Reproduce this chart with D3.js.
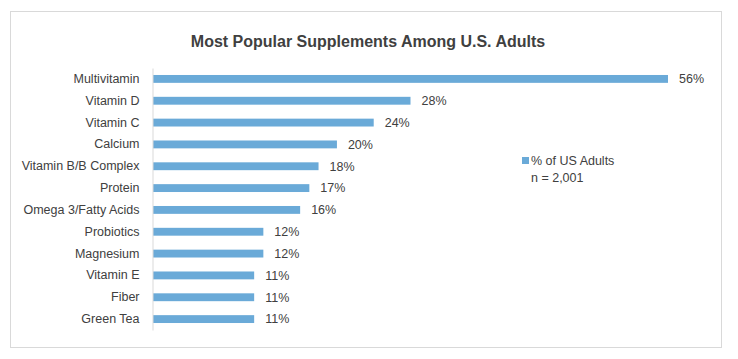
<!DOCTYPE html>
<html><head><meta charset="utf-8">
<script src="https://cdn.jsdelivr.net/npm/d3@7"></script>
<style>
body{margin:0;background:#fff;}
svg text{font-family:"Liberation Sans",Arial,sans-serif;}
</style></head>
<body>
<svg id="c" width="738" height="359"></svg>
<script>
const categories = ["Multivitamin","Vitamin D","Vitamin C","Calcium","Vitamin B/B Complex","Protein","Omega 3/Fatty Acids","Probiotics","Magnesium","Vitamin E","Fiber","Green Tea"];
const values = [56,28,24,20,18,17,16,12,12,11,11,11];
const seriesName = "% of US Adults";
const noteText = "n = 2,001";
const title = "Most Popular Supplements Among U.S. Adults";

const svg = d3.select("#c");
svg.append("rect").attr("x",10.5).attr("y",11.5).attr("width",711).attr("height",336)
  .attr("fill","#fff").attr("stroke","#d9d9d9");

svg.append("text").attr("x",368).attr("y",47).attr("text-anchor","middle")
  .attr("font-size",16).attr("font-weight","bold").attr("fill","#404040").text(title);

const x = d3.scaleLinear().domain([0,56]).range([153,668]);
const y = d3.scaleBand().domain(categories).range([68,330]).paddingInner(0.64).paddingOuter(0.32);

svg.selectAll("rect.bar").data(values).join("rect").attr("class","bar")
  .attr("x",x(0)).attr("y",(d,i)=>y(categories[i]))
  .attr("width",d=>x(d)-x(0)).attr("height",y.bandwidth()).attr("fill","#6aaad8");

const yAxis = d3.axisLeft(y).tickSize(0).tickPadding(13);
const g = svg.append("g").attr("transform","translate(152.5,0)").call(yAxis);
g.select(".domain").attr("stroke","#d9d9d9");
g.selectAll("text").attr("font-size",12.5).attr("fill","#404040").style("font-family","'Liberation Sans',Arial,sans-serif");

svg.selectAll("text.val").data(values).join("text").attr("class","val")
  .attr("x",d=>x(d)+11).attr("y",(d,i)=>y(categories[i])+y.bandwidth()/2).attr("dy","0.35em")
  .attr("font-size",12.5).attr("fill","#404040").text(d=>d+"%");

svg.append("rect").attr("x",522).attr("y",157).attr("width",7).attr("height",7).attr("fill","#6aaad8");
svg.append("text").attr("x",531).attr("y",165).attr("font-size",12.5).attr("fill","#404040").text(seriesName);
svg.append("text").attr("x",531).attr("y",182).attr("font-size",12.5).attr("fill","#404040").text(noteText);
</script>
</body></html>
